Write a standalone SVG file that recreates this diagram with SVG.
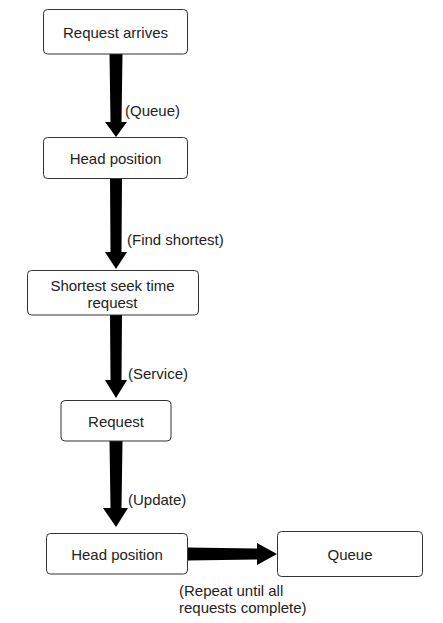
<svg xmlns="http://www.w3.org/2000/svg" width="443" height="623" viewBox="0 0 443 623">
<style>
.node rect{fill:#fff;stroke:#333;stroke-width:1}
text{font-family:"Liberation Sans",Arial,sans-serif;font-size:15px;fill:#222}
.c{text-anchor:middle;dominant-baseline:central}
.l{dominant-baseline:central}
.arrow{fill:#000}
</style>
<rect width="443" height="623" fill="#fff"/>
<g id="connectors">
<polygon class="arrow" points="109.5,54 122.5,54 121.5,122 127,122 116,137 105,122 110.5,122"/>
<polygon class="arrow" points="110,178 122,178 121.5,252 127,252 116,269 105,252 110.5,252"/>
<polygon class="arrow" points="110,315 122,315 121.5,380 127,380 116,398 105,380 110.5,380"/>
<polygon class="arrow" points="109.5,441 122.5,441 121.5,508 128,508 116,527 103,508 110.5,508"/>
<polygon class="arrow" points="188,547.5 188,560.5 257,559.5 257,565 277,554 257,543 257,548.5"/>
<text class="l" x="125" y="110">(Queue)</text>
<text class="l" x="127" y="239">(Find shortest)</text>
<text class="l" x="128" y="373">(Service)</text>
<text class="l" x="128" y="499">(Update)</text>
<text class="l" x="179" y="590">(Repeat until all</text>
<text class="l" x="179" y="607">requests complete)</text>
</g>
<g id="n1" class="node"><rect x="43.5" y="9.5" width="144" height="44.5" rx="4"/><text class="c" x="115.5" y="32">Request arrives</text></g>
<g id="n2" class="node"><rect x="43.5" y="137.5" width="144" height="41" rx="4"/><text class="c" x="115.5" y="158">Head position</text></g>
<g id="n3" class="node"><rect x="27.5" y="270.5" width="171" height="44.5" rx="4"/><text class="c" x="112.5" y="285">Shortest seek time</text><text class="c" x="112.5" y="302">request</text></g>
<g id="n4" class="node"><rect x="61" y="400.5" width="110" height="40.5" rx="4"/><text class="c" x="116" y="421">Request</text></g>
<g id="n5" class="node"><rect x="46.5" y="533.5" width="141" height="40.5" rx="4"/><text class="c" x="117" y="554">Head position</text></g>
<g id="n6" class="node"><rect x="277.5" y="531.5" width="145" height="45" rx="4"/><text class="c" x="350" y="554">Queue</text></g>
</svg>
